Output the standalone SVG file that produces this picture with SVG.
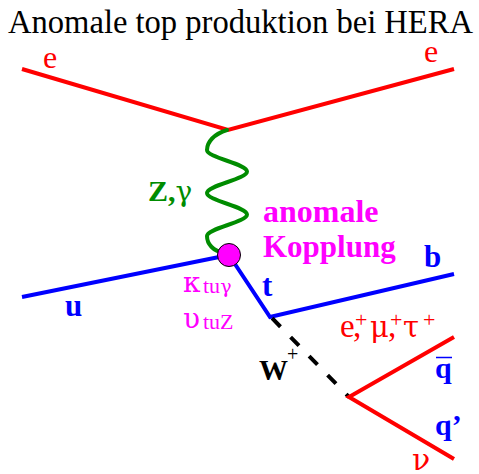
<svg xmlns="http://www.w3.org/2000/svg" width="479" height="474" viewBox="0 0 479 474">
<style>
text{font-family:"Liberation Serif","DejaVu Serif",serif}
.gr{font-family:"DejaVu Serif","Liberation Serif",serif;font-weight:normal}
.b{font-weight:bold}
.red{fill:#ff0000}
.blue{fill:#0000ff}
.mag{fill:#ff00ff}
.grn{fill:#008c00}
.lr{stroke:#ff0000;stroke-width:4;fill:none}
.lb{stroke:#0000ff;stroke-width:4;fill:none}
.lg{stroke:#008c00;stroke-width:4;fill:none;stroke-linecap:round}
.lw{stroke:#000;stroke-width:4;fill:none;stroke-dasharray:12 14.5;stroke-dashoffset:-3}
</style>
<rect width="479" height="474" fill="#fff"/>
<g id="title"><text x="8" y="33" font-size="33" textLength="465" lengthAdjust="spacingAndGlyphs">Anomale top produktion bei HERA</text></g>
<g id="connectors">
<path class="lr" d="M22,69 L228,130 L454,69"/>
<path class="lg" d="M227,130 C214,134 207,142 207,150 C207,157.8 247,163.7 247,171.5 C247,179.3 207,185.2 207,193 C207,200.8 247,206.7 247,214.5 C247,222.3 207,228.2 207,236 C207,244 213,251 224,253"/>
<path class="lb" d="M22,297 L229,255"/>
<path class="lb" d="M229,255 L270,317 L454,274"/>
<path class="lw" d="M270,316 L349,397"/>
<path class="lr" d="M454,337 L349,397 L454,459"/>
</g>
<g id="vertex-anomal"><circle cx="229" cy="255" r="11.5" fill="#ff00ff" stroke="#000" stroke-width="1"/></g>
<g id="label-e-in"><text class="red" x="43" y="68" font-size="32">e</text></g>
<g id="label-e-out"><text class="red" x="424" y="62" font-size="32">e</text></g>
<g id="label-boson"><text class="grn b" x="148" y="201" font-size="30">Z,<tspan class="gr" font-size="28">γ</tspan></text></g>
<g id="label-anomal"><text class="mag b" x="263" y="222" font-size="32">anomale</text><text class="mag b" x="263" y="257" font-size="31">Kopplung</text></g>
<g id="label-couplings">
<text class="mag" x="183" y="292" font-size="22"><tspan class="gr" font-size="28">κ</tspan><tspan x="203" y="293">tu</tspan><tspan class="gr" font-size="19">γ</tspan></text>
<text class="mag" x="183" y="328" font-size="22"><tspan class="gr" font-size="28">υ</tspan><tspan x="203" y="329">tuZ</tspan></text>
</g>
<g id="label-u"><text class="blue b" x="65" y="316" font-size="31">u</text></g>
<g id="label-t"><text class="blue b" x="262" y="296" font-size="31">t</text></g>
<g id="label-b"><text class="blue b" x="424" y="267" font-size="31">b</text></g>
<g id="label-W"><text class="b" x="259" y="380" font-size="29">W<tspan font-weight="normal" font-size="20" x="287" y="361">+</tspan></text></g>
<g id="label-leptons">
<text class="red" font-size="33" y="337"><tspan x="340">e</tspan><tspan x="353">,</tspan><tspan x="355" y="327" font-size="22">+</tspan><tspan class="gr" x="370" y="337" font-size="29">μ</tspan><tspan x="388" y="337">,</tspan><tspan x="390" y="327" font-size="22">+</tspan><tspan class="gr" x="403" y="337" font-size="29">τ</tspan><tspan x="423" y="327" font-size="22">+</tspan></text>
</g>
<g id="label-qbar"><text class="blue b" x="435" y="378" font-size="30">q</text><line x1="436" y1="357.5" x2="452" y2="357.5" stroke="#0000ff" stroke-width="1.5"/></g>
<g id="label-qprime"><text class="blue b" x="435" y="435" font-size="30">q’</text></g>
<g id="label-nu"><text class="red" x="412" y="470" font-size="30"><tspan class="gr">ν</tspan></text></g>
</svg>
